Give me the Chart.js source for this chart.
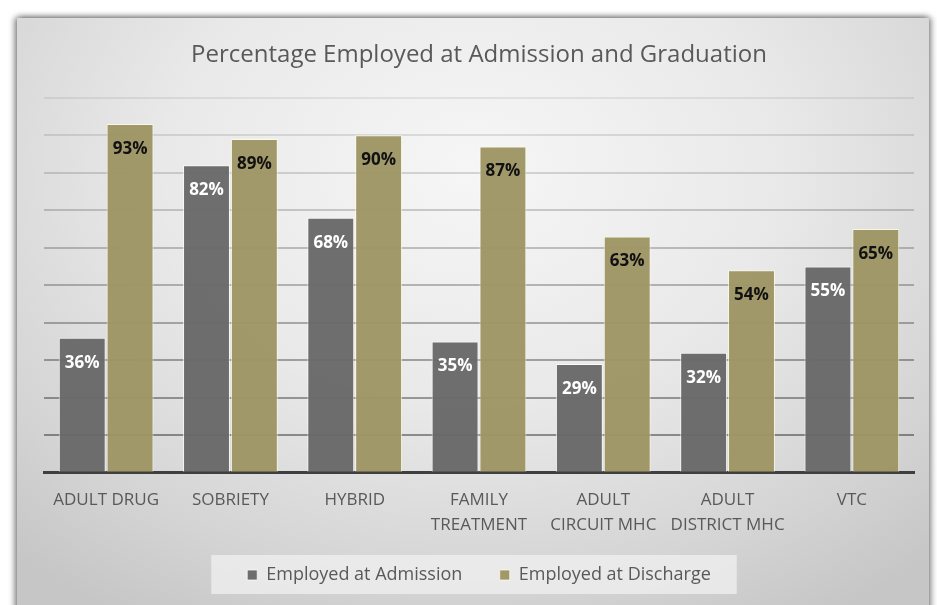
<!DOCTYPE html>
<html>
<head>
<meta charset="utf-8">
<script src="https://cdn.jsdelivr.net/npm/chart.js@4/dist/chart.umd.min.js"></script>
<style>
  html, body { margin: 0; padding: 0; background: #fff; }
  #wrap { position: relative; width: 937px; height: 605px; overflow: hidden; }
  #panel {
    position: absolute; left: 17px; top: 18px; width: 912px; height: 610px;
    background: radial-gradient(ellipse 75% 85% at 50% 25%, #f6f6f6 0%, #e9e9e9 45%, #d4d4d4 80%, #c6c6c6 100%);
    box-shadow: -3px 0 6px rgba(0,0,0,.35), 0 -2px 6px rgba(0,0,0,.25), 3px 0 6px rgba(0,0,0,.3);
  }
  canvas { position: absolute; left: 0; top: 0; }
</style>
</head>
<body>
<div id="wrap">
  <div id="panel"></div>
  <canvas id="chart" width="937" height="605"></canvas>
</div>
<script>
/* ── Data ── */
const categories = [
  'ADULT DRUG', 'SOBRIETY', 'HYBRID', ['FAMILY', 'TREATMENT'],
  ['ADULT', 'CIRCUIT MHC'], ['ADULT', 'DISTRICT MHC'], 'VTC'
];
const admission = [36, 82, 68, 35, 29, 32, 55];
const discharge = [93, 89, 90, 87, 63, 54, 65];

const FONT = "'Open Sans', 'Noto Sans', sans-serif";

/* ── Plugins ── */
const barLabels = {
  id: 'barLabels',
  afterDatasetsDraw(chart) {
    const ctx = chart.ctx;
    ctx.save();
    ctx.font = 'bold 17px ' + FONT;
    ctx.textAlign = 'center';
    ctx.textBaseline = 'middle';
    chart.data.datasets.forEach((ds, i) => {
      ctx.fillStyle = i === 0 ? '#ffffff' : '#111111';
      chart.getDatasetMeta(i).data.forEach((bar, j) => {
        ctx.fillText(ds.data[j] + '%', bar.x, bar.y + 25);
      });
    });
    ctx.restore();
  }
};

const legendBox = {
  id: 'legendBox',
  beforeDraw(chart) {
    const boxes = chart.legend.legendHitBoxes;
    if (!boxes || !boxes.length) return;
    const left = boxes[0].left - 36;
    const last = boxes[boxes.length - 1];
    const right = last.left + last.width + 26;
    const mid = boxes[0].top + boxes[0].height / 2;
    const ctx = chart.ctx;
    ctx.save();
    ctx.fillStyle = 'rgba(240,240,240,0.75)';
    ctx.fillRect(left, mid - 20, right - left, 39);
    ctx.restore();
  }
};

/* ── Chart ── */
new Chart(document.getElementById('chart'), {
  type: 'bar',
  data: {
    labels: categories,
    datasets: [
      {
        label: 'Employed at Admission',
        data: admission,
        backgroundColor: 'rgba(104,104,104,0.96)',
        borderColor: 'rgba(255,255,255,0.7)',
        borderWidth: 1,
        categoryPercentage: 0.77,
        barPercentage: 0.98
      },
      {
        label: 'Employed at Discharge',
        data: discharge,
        backgroundColor: 'rgba(157,149,100,0.96)',
        borderColor: 'rgba(255,255,230,0.7)',
        borderWidth: 1,
        categoryPercentage: 0.77,
        barPercentage: 0.98
      }
    ]
  },
  options: {
    responsive: false,
    animation: false,
    layout: { padding: { left: 44, right: 23, top: 41, bottom: 11 } },
    scales: {
      x: {
        grid: { display: false, drawTicks: false },
        border: { display: true, color: '#3f3f3f', width: 3 },
        ticks: {
          color: '#595959',
          font: { family: FONT, size: 17, lineHeight: 1.45 },
          padding: 15, maxRotation: 0, autoSkip: false
        }
      },
      y: {
        min: 0,
        max: 100,
        ticks: { stepSize: 10, display: false },
        border: { display: false },
        grid: {
          drawTicks: false,
          lineWidth: 2,
          color: c => 'rgba(0,0,0,' + (0.07 + (1 - c.tick.value / 100) * 0.36).toFixed(3) + ')'
        }
      }
    },
    plugins: {
      title: {
        display: true,
        text: 'Percentage Employed at Admission and Graduation',
        color: '#595959',
        font: { family: FONT, size: 24, weight: 'normal' },
        padding: { top: 0, bottom: 28 }
      },
      legend: {
        position: 'bottom',
        labels: {
          color: '#595959',
          font: { family: FONT, size: 18, lineHeight: 1 },
          boxWidth: 10,
          boxHeight: 10,
          padding: 14,
          generateLabels: chart => {
            const items = Chart.defaults.plugins.legend.labels.generateLabels(chart);
            items.forEach((it, i) => { if (i < items.length - 1) it.text += '     '; });
            return items;
          }
        }
      },
      tooltip: { enabled: false }
    }
  },
  plugins: [barLabels, legendBox]
});
</script>
</body>
</html>
